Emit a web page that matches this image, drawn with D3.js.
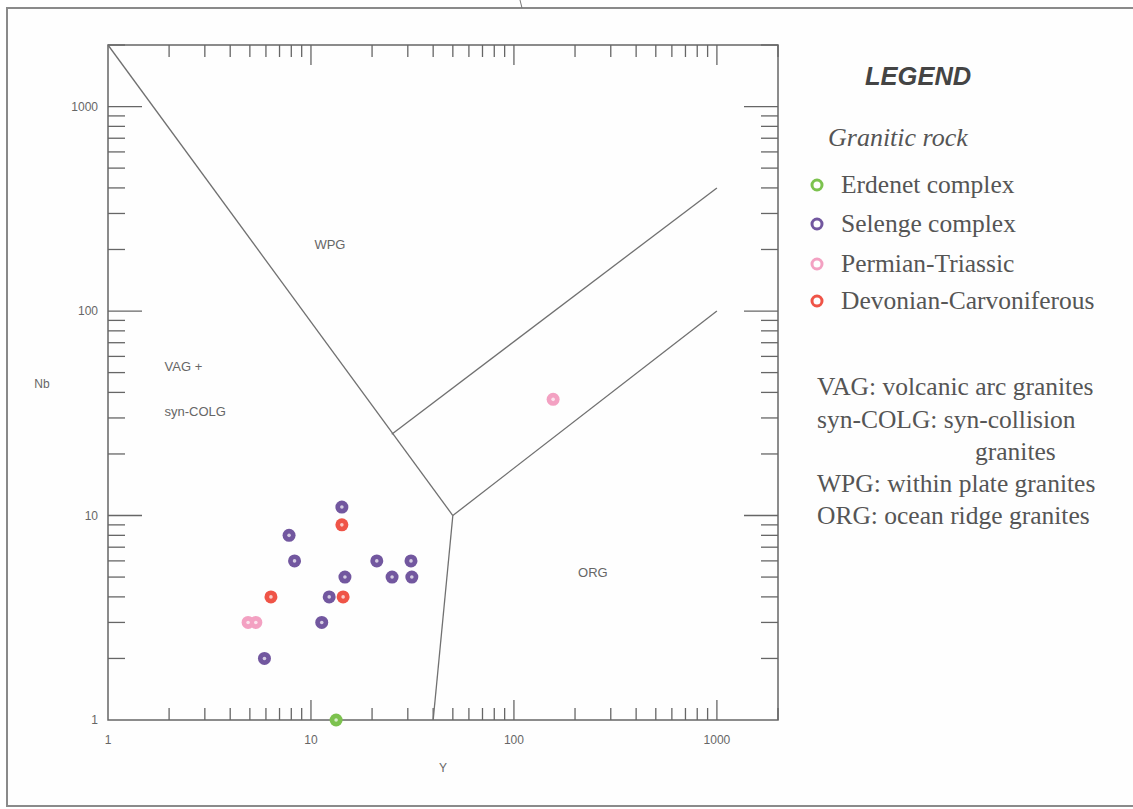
<!DOCTYPE html>
<html>
<head>
<meta charset="utf-8">
<script src="https://cdn.jsdelivr.net/npm/d3@7"></script>
<style>
  html, body { margin: 0; padding: 0; background: #ffffff; }
  svg { display: block; }
</style>
</head>
<body>
<div id="chart"></div>
<script>
// Nb vs Y discrimination diagram (log-log)
const WIDTH = 1133;
const HEIGHT = 809;
const PLOT = { left: 108, right: 778, top: 45, bottom: 720 };

const X_DOMAIN = [1, 2000];
const Y_DOMAIN = [1, 2000];
const MAJOR_TICKS = [1, 10, 100, 1000];

// sample values: [Y, Nb]
const erdenet = [[13.3, 1]];
const selenge = [
  [14.2, 11], [7.8, 8], [8.3, 6], [21.1, 6], [31.1, 6],
  [14.7, 5], [25.1, 5], [31.4, 5], [12.3, 4], [11.3, 3], [5.9, 2]
];
const permianTriassic = [[4.9, 3], [5.35, 3], [156, 37]];
const devonianCarb = [[14.2, 9], [6.35, 4], [14.4, 4]];

// field boundaries (Y, Nb)
const boundaries = [
  [[1, 2000], [50, 10]],
  [[25, 25], [1000, 400]],
  [[50, 10], [1000, 100]],
  [[50, 10], [40, 1]]
];

const fieldLabels = [
  { text: "WPG", x: 12.4, y: 200, anchor: "middle" },
  { text: "VAG +", x: 1.9, y: 51, anchor: "start" },
  { text: "syn-COLG", x: 1.9, y: 30.5, anchor: "start" },
  { text: "ORG", x: 245, y: 5.0, anchor: "middle" }
];

const seriesNames = ["Erdenet complex", "Selenge complex", "Permian-Triassic", "Devonian-Carvoniferous"];
const seriesColors = ["#7cc24e", "#72579f", "#f3a1c2", "#ef5447"];
const seriesData = [erdenet, selenge, permianTriassic, devonianCarb];

const abbreviations = [
  "VAG: volcanic arc granites",
  "syn-COLG: syn-collision",
  "granites",
  "WPG: within plate granites",
  "ORG: ocean ridge granites"
];

const svg = d3.select("#chart")
  .append("svg")
  .attr("width", WIDTH)
  .attr("height", HEIGHT);

// outer page frame
svg.append("rect")
  .attr("x", 7).attr("y", 8)
  .attr("width", 1130).attr("height", 798)
  .attr("fill", "#fefefe")
  .attr("stroke", "#8a8a8a")
  .attr("stroke-width", 2);
svg.append("path")
  .attr("d", "M520,0 L522,8")
  .attr("stroke", "#777").attr("fill", "none");

const x = d3.scaleLog().domain(X_DOMAIN).range([PLOT.left, PLOT.right]);
const y = d3.scaleLog().domain(Y_DOMAIN).range([PLOT.bottom, PLOT.top]);

const minorTicks = [];
[1, 10, 100, 1000].forEach((d) => {
  for (let k = 2; k <= 9; k++) {
    if (d * k <= 2000) minorTicks.push(d * k);
  }
});

const g = svg.append("g");

// frame
g.append("rect")
  .attr("x", PLOT.left).attr("y", PLOT.top)
  .attr("width", PLOT.right - PLOT.left)
  .attr("height", PLOT.bottom - PLOT.top)
  .attr("fill", "none")
  .attr("stroke", "#666")
  .attr("stroke-width", 1.5);

const tickColor = "#666";

// bottom and top ticks (inside)
function drawXTicks(yPos, dir) {
  g.selectAll(null).data(minorTicks.filter((d) => d > 1))
    .enter().append("line")
    .attr("x1", (d) => x(d)).attr("x2", (d) => x(d))
    .attr("y1", yPos).attr("y2", yPos + dir * 12)
    .attr("stroke", tickColor).attr("stroke-width", 1.3);
  g.selectAll(null).data(MAJOR_TICKS.filter((d) => d > 1))
    .enter().append("line")
    .attr("x1", (d) => x(d)).attr("x2", (d) => x(d))
    .attr("y1", yPos).attr("y2", yPos + dir * 20)
    .attr("stroke", tickColor).attr("stroke-width", 1.3);
}
drawXTicks(PLOT.bottom, -1);
drawXTicks(PLOT.top, 1);

// left and right ticks (inside)
function drawYTicks(xPos, dir) {
  g.selectAll(null).data(minorTicks)
    .enter().append("line")
    .attr("y1", (d) => y(d)).attr("y2", (d) => y(d))
    .attr("x1", xPos).attr("x2", xPos + dir * 17)
    .attr("stroke", tickColor).attr("stroke-width", 1.3);
  g.selectAll(null).data(MAJOR_TICKS.filter((d) => d > 1))
    .enter().append("line")
    .attr("y1", (d) => y(d)).attr("y2", (d) => y(d))
    .attr("x1", xPos).attr("x2", xPos + dir * 34)
    .attr("stroke", tickColor).attr("stroke-width", 1.3);
}
drawYTicks(PLOT.left, 1);
drawYTicks(PLOT.right, -1);

// tick labels
g.selectAll(null).data(MAJOR_TICKS)
  .enter().append("text")
  .attr("x", (d) => x(d))
  .attr("y", PLOT.bottom + 24)
  .attr("text-anchor", "middle")
  .attr("font-family", "Liberation Sans, Arial, sans-serif")
  .attr("font-size", 12)
  .attr("fill", "#666")
  .text((d) => d);

g.selectAll(null).data(MAJOR_TICKS)
  .enter().append("text")
  .attr("x", PLOT.left - 10)
  .attr("y", (d) => y(d) + 4)
  .attr("text-anchor", "end")
  .attr("font-family", "Liberation Sans, Arial, sans-serif")
  .attr("font-size", 12)
  .attr("fill", "#666")
  .text((d) => d);

// axis titles
g.append("text")
  .attr("x", 443)
  .attr("y", PLOT.bottom + 52)
  .attr("text-anchor", "middle")
  .attr("font-family", "Liberation Sans, Arial, sans-serif")
  .attr("font-size", 12).attr("fill", "#666")
  .text("Y");
g.append("text")
  .attr("x", 42)
  .attr("y", 388)
  .attr("text-anchor", "middle")
  .attr("font-family", "Liberation Sans, Arial, sans-serif")
  .attr("font-size", 12).attr("fill", "#666")
  .text("Nb");

// field boundaries
const line = d3.line().x((d) => x(d[0])).y((d) => y(d[1]));
g.selectAll("path.boundary")
  .data(boundaries)
  .enter().append("path")
  .attr("class", "boundary")
  .attr("d", line)
  .attr("fill", "none")
  .attr("stroke", "#707070")
  .attr("stroke-width", 1.3);

// field labels
g.selectAll("text.field")
  .data(fieldLabels)
  .enter().append("text")
  .attr("class", "field")
  .attr("x", (d) => x(d.x))
  .attr("y", (d) => y(d.y))
  .attr("text-anchor", (d) => d.anchor)
  .attr("font-family", "Liberation Sans, Arial, sans-serif")
  .attr("font-size", 13).attr("fill", "#666")
  .text((d) => d.text);

// points
seriesData.forEach((pts, i) => {
  const grp = g.append("g");
  grp.selectAll("circle.pt")
    .data(pts)
    .enter().append("circle")
    .attr("class", "pt")
    .attr("cx", (d) => x(d[0]))
    .attr("cy", (d) => y(d[1]))
    .attr("r", 6.5)
    .attr("fill", seriesColors[i]);
  grp.selectAll("circle.core")
    .data(pts)
    .enter().append("circle")
    .attr("class", "core")
    .attr("cx", (d) => x(d[0]))
    .attr("cy", (d) => y(d[1]))
    .attr("r", 1.8)
    .attr("fill", "#fff")
    .attr("opacity", 0.7);
});

// legend
const lg = svg.append("g");
lg.append("text")
  .attr("x", 865).attr("y", 85)
  .attr("font-family", "Liberation Sans, Arial, sans-serif")
  .attr("font-weight", "bold").attr("font-style", "italic")
  .attr("font-size", 25.5).attr("fill", "#444")
  .text("LEGEND");
lg.append("text")
  .attr("x", 828).attr("y", 146)
  .attr("font-family", "Liberation Serif, Times New Roman, serif")
  .attr("font-style", "italic")
  .attr("font-size", 26).attr("fill", "#555")
  .text("Granitic rock");

const itemY = [185, 224, 264, 301];
seriesNames.forEach((name, i) => {
  lg.append("circle")
    .attr("cx", 817).attr("cy", itemY[i])
    .attr("r", 5).attr("fill", "none")
    .attr("stroke", seriesColors[i]).attr("stroke-width", 3);
  lg.append("text")
    .attr("x", 841).attr("y", itemY[i] + 8)
    .attr("font-family", "Liberation Serif, Times New Roman, serif")
    .attr("font-size", 25.5).attr("fill", "#555")
    .text(name);
});

const abbrY = [395, 428, 460, 492, 524];
abbreviations.forEach((t, i) => {
  lg.append("text")
    .attr("x", i === 2 ? 975 : 817).attr("y", abbrY[i])
    .attr("font-family", "Liberation Serif, Times New Roman, serif")
    .attr("font-size", 25.5).attr("fill", "#555")
    .text(t);
});
</script>
</body>
</html>
